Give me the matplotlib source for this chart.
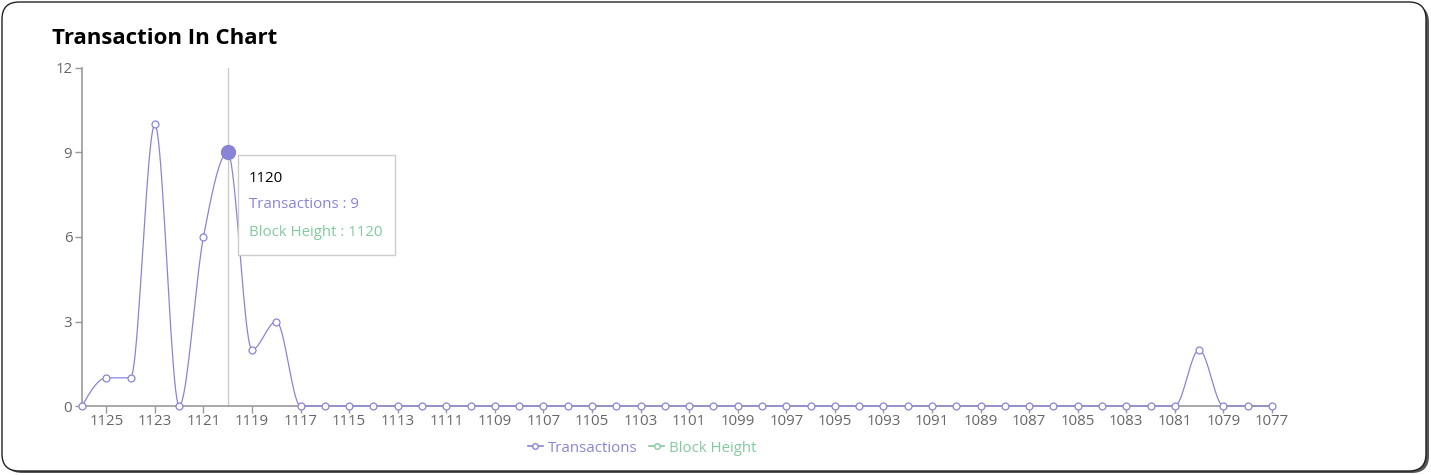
import numpy as np
import matplotlib.pyplot as plt
from matplotlib.lines import Line2D
from matplotlib.patches import FancyBboxPatch

plt.rcParams['font.family'] = ['Open Sans', 'DejaVu Sans']

# block heights (x categories) and transaction counts
blocks = [1126, 1125, 1124, 1123, 1122, 1121, 1120, 1119, 1118, 1117,
          1116, 1115, 1114, 1113, 1112, 1111, 1110, 1109, 1108, 1107,
          1106, 1105, 1104, 1103, 1102, 1101, 1100, 1099, 1098, 1097,
          1096, 1095, 1094, 1093, 1092, 1091, 1090, 1089, 1088, 1087,
          1086, 1085, 1084, 1083, 1082, 1081, 1080, 1079, 1078, 1077]
transactions = [0, 1, 1, 10, 0, 6, 9, 2, 3, 0,
                0, 0, 0, 0, 0, 0, 0, 0, 0, 0,
                0, 0, 0, 0, 0, 0, 0, 0, 0, 0,
                0, 0, 0, 0, 0, 0, 0, 0, 0, 0,
                0, 0, 0, 0, 0, 0, 2, 0, 0, 0]
y_ticks = [0, 3, 6, 9, 12]
hover_block = 1120

TX_COLOR = '#8884d8'
BH_COLOR = '#82ca9d'


def monotone_x(x, y, n=20):
    """d3 curveMonotoneX style interpolation."""
    x = np.asarray(x, float)
    y = np.asarray(y, float)
    h = np.diff(x)
    s = np.diff(y) / h
    t = np.zeros(len(x))
    for i in range(1, len(x) - 1):
        h0, h1 = h[i - 1], h[i]
        s0, s1 = s[i - 1], s[i]
        p = (s0 * h1 + s1 * h0) / (h0 + h1)
        t[i] = (np.sign(s0) + np.sign(s1)) * min(abs(s0), abs(s1), 0.5 * abs(p))
    t[0] = (3 * s[0] - t[1]) / 2
    t[-1] = (3 * s[-1] - t[-2]) / 2
    xs, ys = [], []
    for i in range(len(x) - 1):
        dx = h[i]
        u = np.linspace(0, 1, n, endpoint=False)
        p0, p3 = y[i], y[i + 1]
        p1 = p0 + dx * t[i] / 3
        p2 = p3 - dx * t[i + 1] / 3
        xs.extend(x[i] + u * dx)
        ys.extend((1 - u) ** 3 * p0 + 3 * (1 - u) ** 2 * u * p1
                  + 3 * (1 - u) * u ** 2 * p2 + u ** 3 * p3)
    xs.append(x[-1])
    ys.append(y[-1])
    return np.array(xs), np.array(ys)


fig = plt.figure(figsize=(14.31, 4.75), dpi=100)

# card with shadow
shadow = FancyBboxPatch((5 / 1431, 2 / 475), 1424 / 1431, 468 / 475,
                        boxstyle='round,pad=0,rounding_size=0.012',
                        transform=fig.transFigure, facecolor='#555555',
                        edgecolor='none', zorder=-2, mutation_aspect=3.0)
card = FancyBboxPatch((2 / 1431, 4 / 475), 1424 / 1431, 469 / 475,
                      boxstyle='round,pad=0,rounding_size=0.012',
                      transform=fig.transFigure, facecolor='white',
                      edgecolor='#222222', linewidth=1.0, zorder=-1,
                      mutation_aspect=3.0)
fig.patches.extend([shadow, card])

fig.text(52 / 1431, 1 - 39 / 475, 'Transaction In Chart', fontsize=16,
         fontweight='bold', va='center', ha='left', color='black')

ax = fig.add_axes([82 / 1431, 1 - 406 / 475, 1190 / 1431, 338 / 475])
ax.set_facecolor('none')

xi = np.arange(len(blocks))
cx, cy = monotone_x(xi, transactions)
ax.plot(cx, cy, color=TX_COLOR, linewidth=0.9, zorder=3, clip_on=False)
ax.plot(xi, transactions, linestyle='none', marker='o', markersize=5,
        markerfacecolor='white', markeredgecolor=TX_COLOR,
        markeredgewidth=0.9, zorder=4, clip_on=False)

# hover state
hi = blocks.index(hover_block)
ax.axvline(hi, color='#cccccc', linewidth=1, zorder=1)
ax.plot([hi], [transactions[hi]], marker='o', markersize=10,
        color=TX_COLOR, zorder=5, clip_on=False)

ax.set_xlim(0, len(blocks) - 1)
ax.set_ylim(0, 12)
ax.set_yticks(y_ticks)
tick_idx = [i for i, b in enumerate(blocks) if b % 2 == 1]
ax.set_xticks(tick_idx)
ax.set_xticklabels([str(blocks[i]) for i in tick_idx])

for side in ['top', 'right']:
    ax.spines[side].set_visible(False)
for side in ['left', 'bottom']:
    ax.spines[side].set_color('#999999')
    ax.spines[side].set_linewidth(1.2)
ax.tick_params(axis='both', colors='#999999', labelcolor='#666666',
               labelsize=10.8, length=5, width=1)
ax.tick_params(axis='x', pad=0.5)
ax.tick_params(axis='y', pad=2)

# tooltip
tip = FancyBboxPatch((238 / 1431, 1 - 255 / 475), 157 / 1431, 100 / 475,
                     boxstyle='square,pad=0', transform=fig.transFigure,
                     facecolor='white', edgecolor='#cccccc', linewidth=1,
                     zorder=10)
fig.patches.append(tip)
fig.text(249 / 1431, 1 - 179 / 475, str(hover_block), fontsize=10.8,
         color='black', va='center', zorder=11)
fig.text(249 / 1431, 1 - 204 / 475, f'Transactions : {transactions[hi]}',
         fontsize=10.8, color=TX_COLOR, va='center', zorder=11)
fig.text(249 / 1431, 1 - 233 / 475, f'Block Height : {hover_block}',
         fontsize=10.8, color=BH_COLOR, va='center', zorder=11)

# legend
handles = [
    Line2D([], [], color=TX_COLOR, marker='o', markersize=4,
           markerfacecolor='white', linewidth=1.2),
    Line2D([], [], color=BH_COLOR, marker='o', markersize=4,
           markerfacecolor='white', linewidth=1.2),
]
leg = fig.legend(handles, ['Transactions', 'Block Height'],
                 loc='center', bbox_to_anchor=(642 / 1431, 1 - 448 / 475),
                 ncol=2, frameon=False, fontsize=10.8, handlelength=1.0,
                 handletextpad=0.3, columnspacing=0.8)
for txt, c in zip(leg.get_texts(), [TX_COLOR, BH_COLOR]):
    txt.set_color(c)

fig.savefig('out.png', dpi=100)
